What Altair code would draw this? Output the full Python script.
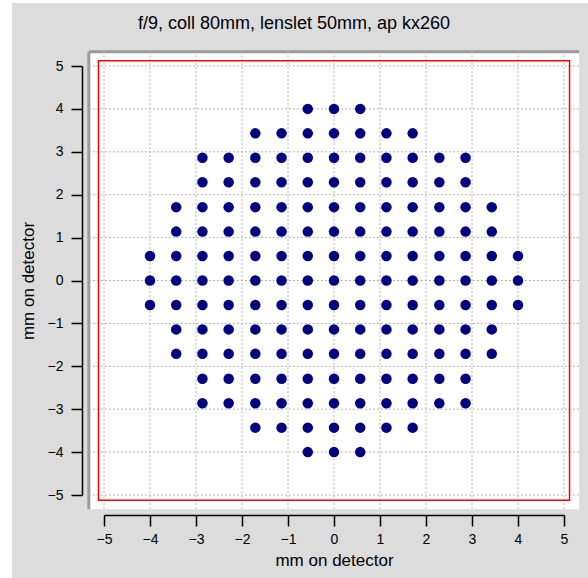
import altair as alt
import pandas as pd

# ---- data ----
positions = [-4.0, -3.43, -2.86, -2.29, -1.71, -1.14, -0.57, 0.0,
             0.57, 1.14, 1.71, 2.29, 2.86, 3.43, 4.0]
row_y = [4.0, 3.43, 2.86, 2.29, 1.71, 1.14, 0.57, 0.0,
         -0.57, -1.14, -1.71, -2.29, -2.86, -3.43, -4.0]
row_halfwidth = [0.57, 1.71, 2.86, 2.86, 3.43, 3.43, 4.0, 4.0,
                 4.0, 3.43, 3.43, 2.86, 2.86, 1.71, 0.57]
tick_values = [-5, -4, -3, -2, -1, 0, 1, 2, 3, 4, 5]
title_text = "f/9, coll 80mm, lenslet 50mm, ap kx260"
axis_title = "mm on detector"

# decoration extents (data units)
detector_half = 5.12       # red outline
white_half = 5.33          # white plotting area
panel_x = [-7.0, 5.6]      # grey frame
panel_y = [-7.0, 6.47]

FONT = "Liberation Sans"

pts = []
for y, hw in zip(row_y, row_halfwidth):
    for x in positions:
        if abs(x) <= hw + 1e-9:
            pts.append({"x": x, "y": y})
pts = pd.DataFrame(pts)

xs = alt.Scale(domain=[-5, 5], nice=False, zero=False)
ys = alt.Scale(domain=[-5, 5], nice=False, zero=False)

common_axis = dict(values=tick_values, grid=False, format="d", zindex=2,
                   domainColor="black", domainWidth=1.5,
                   tickColor="black", tickWidth=1.5, tickSize=11,
                   labelFont=FONT, labelFontSize=14, labelColor="black",
                   labelFlush=False, labelOverlap=False,
                   title=axis_title, titleFont=FONT, titleFontSize=17,
                   titleFontWeight="normal", titleColor="black")
x_axis = alt.Axis(orient="bottom", offset=20, labelPadding=6,
                  titlePadding=6, **common_axis)
y_axis = alt.Axis(orient="left", offset=22, labelPadding=8,
                  titlePadding=10, **common_axis)


def X():
    return alt.X("x:Q", scale=xs, axis=x_axis)


def Y():
    return alt.Y("y:Q", scale=ys, axis=y_axis)


panel = alt.Chart(pd.DataFrame({"x": [panel_x[0]], "x2": [panel_x[1]],
                                "y": [panel_y[0]], "y2": [panel_y[1]]})).mark_rect(
    color="#dcdcdc").encode(x=X(), x2="x2", y=Y(), y2="y2")

white = alt.Chart(pd.DataFrame({"x": [-white_half], "x2": [white_half],
                                "y": [-white_half], "y2": [white_half]})).mark_rect(
    color="white").encode(x=X(), x2="x2", y=Y(), y2="y2")

border_top = alt.Chart(pd.DataFrame({"x": [-white_half], "x2": [white_half],
                                     "y": [white_half]})).mark_rule(
    color="#9a9a9a", strokeWidth=3).encode(x=X(), x2="x2", y=Y())

border_left = alt.Chart(pd.DataFrame({"x": [-white_half], "y": [-white_half],
                                      "y2": [white_half]})).mark_rule(
    color="#9a9a9a", strokeWidth=3).encode(x=X(), y=Y(), y2="y2")

grid_v = alt.Chart(pd.DataFrame({"x": tick_values,
                                 "y": [-white_half] * len(tick_values),
                                 "y2": [white_half] * len(tick_values)})).mark_rule(
    color="#b0b0b0", strokeDash=[2, 2], strokeWidth=1).encode(
    x=X(), y=Y(), y2="y2")

grid_h = alt.Chart(pd.DataFrame({"y": tick_values,
                                 "x": [-white_half] * len(tick_values),
                                 "x2": [white_half] * len(tick_values)})).mark_rule(
    color="#b0b0b0", strokeDash=[2, 2], strokeWidth=1).encode(
    y=Y(), x=X(), x2="x2")

red = alt.Chart(pd.DataFrame({"x": [-detector_half], "x2": [detector_half],
                              "y": [-detector_half], "y2": [detector_half]})).mark_rect(
    fillOpacity=0, stroke="#ff0000", strokeWidth=1.5).encode(
    x=X(), x2="x2", y=Y(), y2="y2")

points = alt.Chart(pts).mark_circle(size=110, color="#000080", opacity=1).encode(
    x=X(), y=Y())

chart = alt.layer(panel, white, border_top, border_left, grid_v, grid_h,
                  red, points).properties(
    width=460, height=429,
    autosize=alt.AutoSizeParams(type="none"),
    padding={"left": 104, "top": 66, "right": 24, "bottom": 83},
    background="white",
    title=alt.TitleParams(text=title_text, font=FONT, fontSize=18,
                          fontWeight="normal", color="black",
                          anchor="middle", frame="group", dx=-40,
                          baseline="alphabetic", offset=-44),
).configure_view(strokeWidth=0)

chart.save("out.html", embed_options={"renderer": "svg", "actions": False})
